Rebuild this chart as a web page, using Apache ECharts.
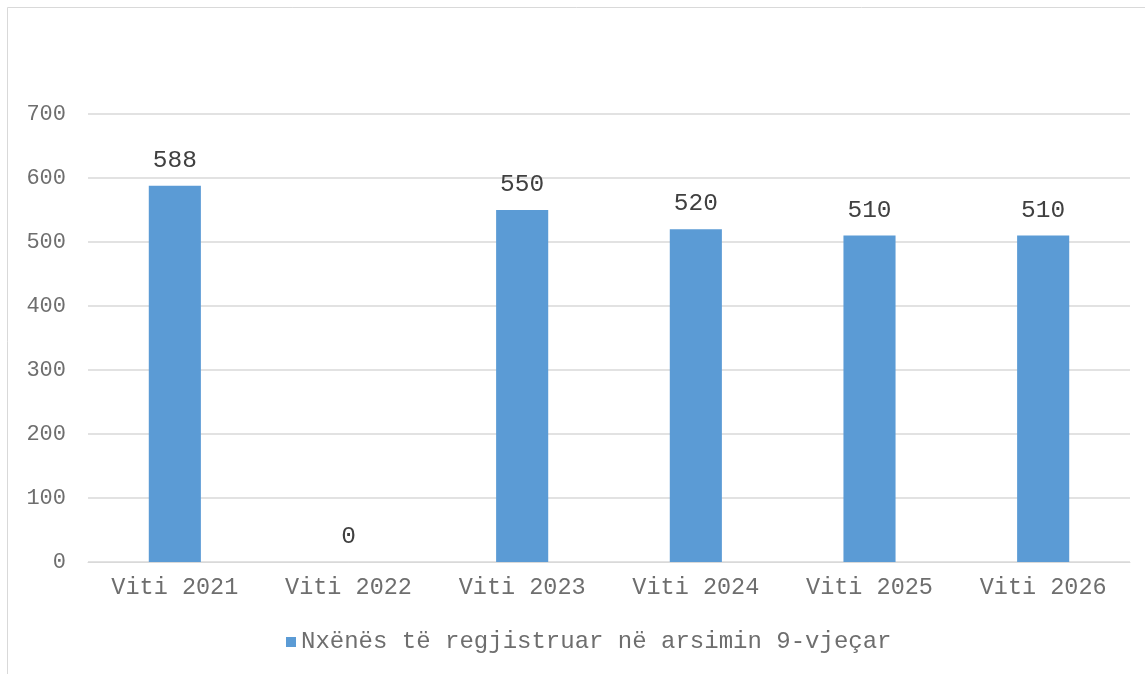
<!DOCTYPE html>
<html><head><meta charset="utf-8">
<script src="https://cdn.jsdelivr.net/npm/echarts@6/dist/echarts.min.js"></script>
<style>html,body{margin:0;padding:0;background:#fff}#c{width:1145px;height:674px}</style>
</head><body><div id="c"></div>
<script>
const categories = ['Viti 2021','Viti 2022','Viti 2023','Viti 2024','Viti 2025','Viti 2026'];
const seriesName = 'Nxënës të regjistruar në arsimin 9-vjeçar';
const values = [588, 0, 550, 520, 510, 510];
const yTicks = {min: 0, max: 700, interval: 100};

const FONT = '"Liberation Mono", "Courier New", monospace';
const chart = echarts.init(document.getElementById('c'), null, {renderer: 'canvas'});
chart.setOption({
  animation: false,
  backgroundColor: '#fff',
  graphic: [{
    type: 'rect', shape: {x: 7.5, y: 7.5, width: 1150, height: 700},
    style: {fill: 'none', stroke: '#d9d9d9', lineWidth: 1}, silent: true, z: -1
  }],
  grid: {left: 88, right: 15, top: 114, bottom: 112, containLabel: false},
  legend: {
    bottom: 15, left: 281, itemWidth: 10, itemHeight: 10, itemGap: 4,
    icon: 'rect',
    textStyle: {fontFamily: FONT, fontSize: 24, color: '#6e6e6e'},
    data: [seriesName]
  },
  xAxis: {
    type: 'category', data: categories,
    axisLine: {lineStyle: {color: '#d9d9d9'}},
    axisTick: {show: false},
    axisLabel: {fontFamily: FONT, fontSize: 23.5, color: '#6e6e6e', margin: 14}
  },
  yAxis: {
    type: 'value', min: yTicks.min, max: yTicks.max, interval: yTicks.interval,
    axisLine: {show: false}, axisTick: {show: false},
    splitLine: {lineStyle: {color: '#d9d9d9', width: 1.5}},
    axisLabel: {fontFamily: FONT, fontSize: 22, color: '#6e6e6e', margin: 22}
  },
  series: [{
    name: seriesName, type: 'bar', data: values, barWidth: '30%',
    itemStyle: {color: '#5B9BD5'},
    label: {show: true, position: 'top', distance: 13, fontFamily: FONT, fontSize: 24.5, color: '#404040'}
  }]
});
</script></body></html>
